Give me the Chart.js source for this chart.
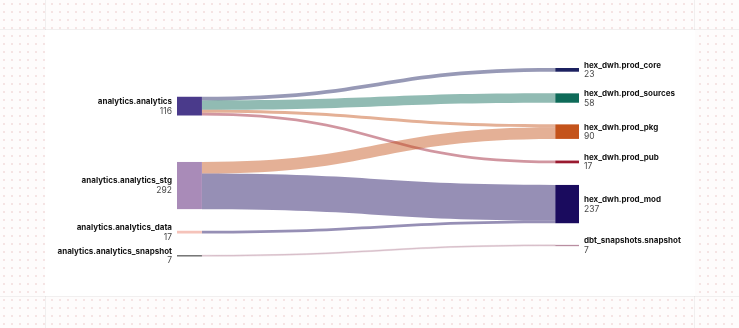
<!DOCTYPE html>
<html>
<head>
<meta charset="utf-8">
<script src="https://cdn.jsdelivr.net/npm/chart.js@4.4.1/dist/chart.umd.min.js"></script>
<style>
  html, body { margin: 0; padding: 0; }
  body {
    width: 739px; height: 328px; overflow: hidden; position: relative;
    background-color: #fefcfc;
    background-image: radial-gradient(circle, #f5e4e4 0.8px, transparent 1.1px);
    background-size: 8px 8px;
    font-family: Inter, "Noto Sans", sans-serif;
  }
  .guide { position: absolute; background: rgba(0, 0, 0, 0.05); }
  .card { position: absolute; left: 45px; top: 30px; width: 650px; height: 266px; background: #fff; }
</style>
</head>
<body>
<div class="guide" style="left:0;top:29px;width:739px;height:1px"></div>
<div class="guide" style="left:0;top:296px;width:739px;height:1px"></div>
<div class="guide" style="left:45px;top:0;width:1px;height:328px"></div>
<div class="guide" style="left:694px;top:0;width:1px;height:328px"></div>
<div class="card"><canvas id="chart" width="650" height="266"></canvas></div>
<script>
// nodes, left column then right column (top to bottom)
const leftNodes = ['analytics.analytics', 'analytics.analytics_stg', 'analytics.analytics_data', 'analytics.analytics_snapshot'];
const rightNodes = ['hex_dwh.prod_core', 'hex_dwh.prod_sources', 'hex_dwh.prod_pkg', 'hex_dwh.prod_pub', 'hex_dwh.prod_mod', 'dbt_snapshots.snapshot'];

const leftColors = ['#4a3a8b', '#a98bb8', '#f5c3ba', '#5e5e5e'];
const rightColors = ['#1c2160', '#0f6b59', '#c4531b', '#9a1a30', '#1a0b5e', '#b98ea1'];

// flows: source -> target, value
const linkFrom = ['analytics.analytics', 'analytics.analytics', 'analytics.analytics', 'analytics.analytics',
  'analytics.analytics_stg', 'analytics.analytics_stg', 'analytics.analytics_data', 'analytics.analytics_snapshot'];
const linkTo = ['hex_dwh.prod_core', 'hex_dwh.prod_sources', 'hex_dwh.prod_pkg', 'hex_dwh.prod_pub',
  'hex_dwh.prod_pkg', 'hex_dwh.prod_mod', 'hex_dwh.prod_mod', 'dbt_snapshots.snapshot'];
const linkValues = [23, 58, 18, 17, 72, 220, 17, 7];

const GAP = 134;           // gap between nodes, in value units
const NODE_W_LEFT = 0.062; // node widths in x units
const NODE_W_RIGHT = 0.059;
const LINK_ALPHA = 0.46;

function sum(arr) { return arr.reduce((a, b) => a + b, 0); }

function hexToRgba(hex, a) {
  const n = parseInt(hex.slice(1), 16);
  return `rgba(${n >> 16},${(n >> 8) & 255},${n & 255},${a})`;
}

// simple sankey layout in value units
function layout() {
  const links = linkValues.map((v, i) => ({
    from: linkFrom[i], to: linkTo[i], value: v,
    s: leftNodes.indexOf(linkFrom[i]), t: rightNodes.indexOf(linkTo[i])
  }));
  const right = rightNodes.map((name, i) => {
    const value = sum(links.filter(l => l.t === i).map(l => l.value));
    return {name, value, color: rightColors[i]};
  });
  let y = 0;
  for (const n of right) { n.y0 = y; n.y1 = y + n.value; y = n.y1 + GAP; }
  const total = y - GAP;

  // incoming offsets at targets, ordered by source
  right.forEach((n, i) => {
    let off = n.y0;
    links.filter(l => l.t === i).sort((a, b) => a.s - b.s).forEach(l => {
      l.ty0 = off; l.ty1 = off + l.value; off = l.ty1;
    });
  });

  // left nodes centred on the weighted centre of their targets, then pushed apart
  const left = leftNodes.map((name, i) => {
    const out = links.filter(l => l.s === i);
    const value = sum(out.map(l => l.value));
    const centre = sum(out.map(l => l.value * (l.ty0 + l.ty1) / 2)) / value;
    return {name, value, color: leftColors[i], y0: centre - value / 2};
  });
  let prevBottom = -Infinity;
  for (const n of left) {
    n.y0 = Math.max(n.y0, prevBottom + GAP, 0);
    n.y1 = n.y0 + n.value;
    prevBottom = n.y1;
  }
  left.forEach((n, i) => {
    let off = n.y0;
    links.filter(l => l.s === i).sort((a, b) => a.t - b.t).forEach(l => {
      l.sy0 = off; l.sy1 = off + l.value; off = l.sy1;
    });
  });
  return {left, right, links, total};
}

const sankey = layout();

const sankeyPlugin = {
  id: 'sankeyDraw',
  afterDatasetsDraw(chart) {
    const {ctx, scales: {x, y}} = chart;
    const xl0 = x.getPixelForValue(0), xl1 = x.getPixelForValue(NODE_W_LEFT);
    const xr0 = x.getPixelForValue(1 - NODE_W_RIGHT), xr1 = x.getPixelForValue(1);
    const xm = (xl1 + xr0) / 2;
    ctx.save();

    // flows
    for (const l of sankey.links) {
      const a0 = y.getPixelForValue(l.sy0), a1 = y.getPixelForValue(l.sy1);
      const b0 = y.getPixelForValue(l.ty0), b1 = y.getPixelForValue(l.ty1);
      ctx.beginPath();
      ctx.moveTo(xl1, a0);
      ctx.bezierCurveTo(xm, a0, xm, b0, xr0, b0);
      ctx.lineTo(xr0, b1);
      ctx.bezierCurveTo(xm, b1, xm, a1, xl1, a1);
      ctx.closePath();
      ctx.fillStyle = hexToRgba(rightColors[l.t], LINK_ALPHA);
      ctx.fill();
      if (b1 - b0 < 2) {
        // keep hairline flows visible
        ctx.strokeStyle = hexToRgba(rightColors[l.t], LINK_ALPHA * 0.8);
        ctx.lineWidth = 0.6;
        ctx.stroke();
      }
    }

    // nodes
    const drawNode = (n, xa, xb) => {
      const top = y.getPixelForValue(n.y0);
      const h = Math.max(y.getPixelForValue(n.y1) - top, 1.3);
      ctx.fillStyle = n.color;
      ctx.fillRect(xa, top, xb - xa, h);
    };
    sankey.left.forEach(n => drawNode(n, xl0, xl1));
    sankey.right.forEach(n => drawNode(n, xr0, xr1));

    // labels
    const label = (n, xPos, align) => {
      const c = (y.getPixelForValue(n.y0) + y.getPixelForValue(n.y1)) / 2;
      ctx.textAlign = align;
      ctx.textBaseline = 'middle';
      ctx.fillStyle = '#141414';
      ctx.font = '700 8px Inter';
      ctx.fillText(n.name, xPos, c - 4.5);
      ctx.fillStyle = '#474747';
      ctx.font = '400 8.5px Inter';
      ctx.fillText(String(n.value), xPos, c + 5);
    };
    sankey.left.forEach(n => label(n, xl0 - 5, 'right'));
    sankey.right.forEach(n => label(n, xr1 + 5, 'left'));
    ctx.restore();
  }
};

new Chart(document.getElementById('chart'), {
  type: 'scatter',
  data: {datasets: [{data: []}]},
  options: {
    responsive: false,
    animation: false,
    layout: {padding: {left: 132, right: 116, top: 38, bottom: 50}},
    plugins: {legend: {display: false}, tooltip: {enabled: false}},
    scales: {
      x: {type: 'linear', min: 0, max: 1, display: false},
      y: {type: 'linear', min: 0, max: sankey.total, reverse: true, display: false}
    }
  },
  plugins: [sankeyPlugin]
});
</script>
</body>
</html>
